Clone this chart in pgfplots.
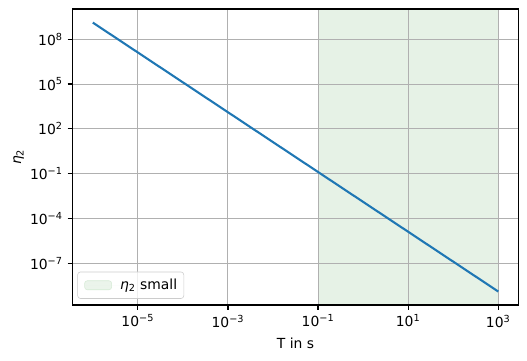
\documentclass[border=0pt]{standalone}
\usepackage{fontspec}
\setmainfont{DejaVu Sans}
\usepackage{pgfplots}
\usetikzlibrary{calc}
\pgfplotsset{compat=1.18}
\definecolor{mplblue}{HTML}{1F77B4}
\definecolor{spangreen}{RGB}{230,242,230}
\definecolor{spanedge}{RGB}{214,235,214}
\definecolor{gridgray}{HTML}{B0B0B0}
\newcommand{\etatwo}{{\itshape η}\textsubscript{2}}
\begin{document}
\begin{tikzpicture}
\begin{axis}[
  set layers,
  clip mode=individual,
  scale only axis, width=321.1pt, height=213.1pt,
  xmode=log, ymode=log,
  xmin=3.548e-7, xmax=2818, ymin=1.62e-10, ymax=1.05e10,
  xtick={1e-5,1e-3,1e-1,1e1,1e3},
  xticklabels={10\textsuperscript{−5},10\textsuperscript{−3},10\textsuperscript{−1},10\textsuperscript{1},10\textsuperscript{3}},
  ytick={1e-7,1e-4,1e-1,1e2,1e5,1e8},
  yticklabels={10\textsuperscript{−7},10\textsuperscript{−4},10\textsuperscript{−1},10\textsuperscript{2},10\textsuperscript{5},10\textsuperscript{8}},
  minor tick num=0,
  xtick pos=left, ytick pos=left,
  tick align=outside,
  major tick length=3.5pt,
  tick style={black, line width=0.8pt},
  axis line style={black, line width=0.8pt},
  grid=major,
  major grid style={gridgray, line width=0.75pt},
  tick label style={font=\fontsize{10}{12}\selectfont},
  label style={font=\fontsize{10}{12}\selectfont},
  xlabel={T in s},
  ylabel={\etatwo},
  ylabel shift=-2.5pt,
  xlabel shift=0.5pt,
  legend style={at={(0,0)}, anchor=south west, xshift=3.5pt, yshift=4.5pt,
    draw=black!20, rounded corners=2pt, fill=white, fill opacity=0.8, text opacity=1,
    inner xsep=4.8pt, inner ysep=5pt, nodes={inner sep=0pt},
    font=\fontsize{10}{12}\selectfont},
  legend cell align=left,
]
\addplot[on layer=axis background, fill=spangreen, draw=none,
  legend image code/.code={\fill[spangreen, draw=spanedge] (0pt,-3.25pt) rectangle (19.5pt,3.25pt);
    \path (0pt,0pt) -- (25.5pt,0pt);}]
  coordinates {(0.1,1e-15) (1000,1e-15) (1000,1e15) (0.1,1e15)};
\addlegendentry{\etatwo\ small}
\addplot[mplblue, line width=1.5pt, forget plot]
  coordinates {(1e-6,1.3e9) (1e-3,1.3e3) (1,1.3e-3) (1e3,1.3e-9)};
\end{axis}
\pgfresetboundingbox
\path[use as bounding box] ($(current axis.south west)+(-52.2pt,-39.6pt)$) rectangle ($(current axis.north east)+(6.1pt,6.5pt)$);
\end{tikzpicture}
\end{document}
